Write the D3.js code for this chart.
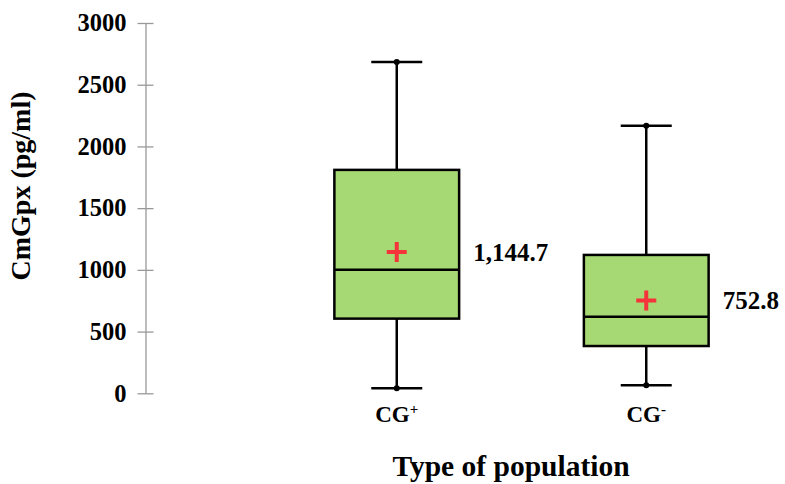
<!DOCTYPE html>
<html>
<head>
<meta charset="utf-8">
<script src="https://cdn.jsdelivr.net/npm/d3@7"></script>
<style>
  html, body { margin: 0; padding: 0; background: #fff; }
  svg { display: block; font-family: "Liberation Serif", "Times New Roman", serif; font-weight: bold; }
</style>
</head>
<body>
<svg id="chart" width="785" height="484"></svg>
<script>
// Box-plot statistics per population group
const categories = ["CG+", "CG-"];
const catBase = ["CG", "CG"];
const catSup = ["+", "-"];
const whiskerLow = [40, 65];
const q1 = [605, 383];
const median = [1000, 621];
const q3 = [1810, 1121];
const whiskerHigh = [2684, 2167];
const means = [1144.7, 752.8];
const meanLabels = ["1,144.7", "752.8"];
const yTicks = [0, 500, 1000, 1500, 2000, 2500, 3000];

const svg = d3.select("#chart");

const y = d3.scaleLinear().domain([0, 3000]).range([393.3, 23]);
const x = d3.scaleBand().domain(categories).range([272, 771]);
const boxW = x.bandwidth() / 2;
const cx = c => x(c) + x.bandwidth() / 2;

// Y axis
const axisX = 145.5;
const yAxis = d3.axisLeft(y).tickValues(yTicks).tickSize(0).tickPadding(0).tickFormat(d3.format("d"));
const gy = svg.append("g").attr("transform", `translate(${axisX},0)`).call(yAxis);
gy.select(".domain").attr("stroke", "#999").attr("stroke-width", 1.3);
gy.selectAll(".tick line").attr("x1", -8).attr("x2", 8).attr("stroke", "#999").attr("stroke-width", 1.3);
gy.selectAll(".tick text")
  .attr("x", -19)
  .attr("fill", "#000")
  .style("font-family", "'Liberation Serif', serif")
  .style("font-weight", "bold")
  .style("font-size", "24.5px");

// Y axis title
svg.append("text")
  .attr("transform", `translate(30,186) rotate(-90)`)
  .attr("text-anchor", "middle")
  .style("font-size", "28px")
  .text("CmGpx (pg/ml)");

const data = categories.map((c, i) => ({
  c, lo: whiskerLow[i], q1: q1[i], med: median[i], q3: q3[i], hi: whiskerHigh[i],
  mean: means[i], label: meanLabels[i]
}));

const g = svg.append("g").selectAll("g").data(data).join("g");

// whisker stems
g.append("line")
  .attr("x1", d => cx(d.c)).attr("x2", d => cx(d.c))
  .attr("y1", d => y(d.hi)).attr("y2", d => y(d.lo))
  .attr("stroke", "#000").attr("stroke-width", 2.5);

// whisker caps
["lo", "hi"].forEach(k => {
  g.append("line")
    .attr("x1", d => cx(d.c) - 25.5).attr("x2", d => cx(d.c) + 25.5)
    .attr("y1", d => y(d[k])).attr("y2", d => y(d[k]))
    .attr("stroke", "#000").attr("stroke-width", 2.5);
  g.append("circle")
    .attr("cx", d => cx(d.c)).attr("cy", d => y(d[k])).attr("r", 3)
    .attr("fill", "#000");
});

// boxes
g.append("rect")
  .attr("x", d => cx(d.c) - boxW / 2)
  .attr("width", boxW)
  .attr("y", d => y(d.q3))
  .attr("height", d => y(d.q1) - y(d.q3))
  .attr("fill", "#a6d873")
  .attr("stroke", "#000").attr("stroke-width", 2.5);

// medians
g.append("line")
  .attr("x1", d => cx(d.c) - boxW / 2).attr("x2", d => cx(d.c) + boxW / 2)
  .attr("y1", d => y(d.med)).attr("y2", d => y(d.med))
  .attr("stroke", "#000").attr("stroke-width", 2.5);

// mean markers (+)
g.append("path")
  .attr("d", d => {
    const px = cx(d.c), py = y(d.mean), a = 10;
    return `M${px - a},${py}H${px + a}M${px},${py - a}V${py + a}`;
  })
  .attr("stroke", "#f5333a").attr("stroke-width", 4);

// mean value labels
g.append("text")
  .attr("x", d => cx(d.c) + boxW / 2 + 14)
  .attr("y", d => y(d.mean))
  .attr("dy", "0.35em")
  .style("font-size", "25px")
  .text(d => d.label);

// category labels
const cl = svg.append("g").selectAll("text").data(categories).join("text")
  .attr("x", d => cx(d))
  .attr("y", 422)
  .attr("text-anchor", "middle")
  .style("font-size", "23px");
cl.append("tspan").text((d, i) => catBase[i]);
cl.append("tspan").attr("dy", -8).style("font-size", "15px").text((d, i) => catSup[i]);

// X axis title
svg.append("text")
  .attr("x", 511)
  .attr("y", 476)
  .attr("text-anchor", "middle")
  .style("font-size", "29.5px")
  .text("Type of population");
</script>
</body>
</html>
